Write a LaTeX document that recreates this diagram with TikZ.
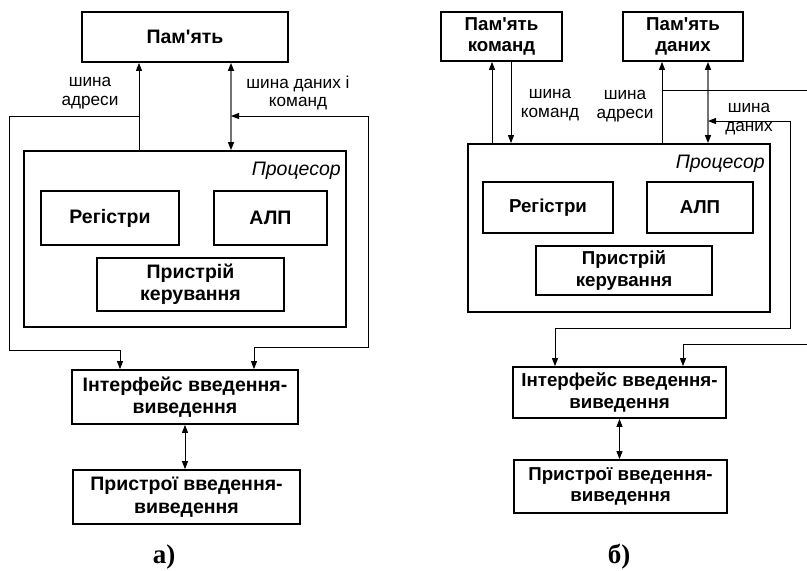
\documentclass[tikz,border=0pt]{standalone}
\usepackage{fontspec}
\newfontfamily\arialf{Liberation Sans}
\newfontfamily\timesf{Liberation Serif}
\usetikzlibrary{arrows.meta}
\begin{document}
\begin{tikzpicture}[x=1pt,y=-1pt,
  box/.style={draw, line width=1.8pt, inner sep=0pt, align=center,
    font=\arialf\fontsize{19.5}{22.5}\selectfont\bfseries},
  boxb/.style={box, font=\arialf\fontsize{18.7}{21.5}\selectfont\bfseries},
  lbl/.style={align=center, inner sep=0pt, font=\arialf\fontsize{17.2}{18.5}\selectfont},
  ttl/.style={inner sep=0pt, anchor=east, font=\arialf\fontsize{19.5}{21}\selectfont\itshape},
  captext/.style={inner sep=0pt, font=\timesf\fontsize{27}{28}\selectfont\bfseries},
  conn/.style={line width=0.9pt, draw=black},
  bus/.style={line width=1.4pt, draw=black!55},
  tip/.style={-{Triangle[length=8pt,width=6pt,color=black]}},
  dtip/.style={{Triangle[length=8pt,width=6pt,color=black]}-{Triangle[length=8pt,width=6pt,color=black]}}
]
\useasboundingbox (0,0) rectangle (807,571);

% ---------------- a) ----------------
\node[box, minimum width=206pt, minimum height=50pt] (memA) at (185,37) {Пам'ять};
\node[box, minimum width=322pt, minimum height=176pt] (pA) at (185,239) {};
\node[ttl] (tA) at (341,171) {Процесор};
\node[box, minimum width=138pt, minimum height=54pt] (regA) at (110,218) {Регістри};
\node[box, minimum width=113pt, minimum height=54pt] (aluA) at (270.5,218) {АЛП};
\node[box, minimum width=187pt, minimum height=53pt] (cuA) at (190.5,284.5) {Пристрій\\керування};
\node[box, minimum width=226pt, minimum height=54pt] (ifA) at (185,397) {Інтерфейс введення-\\виведення};
\node[box, minimum width=227pt, minimum height=54pt] (devA) at (186.5,497) {Пристрої введення-\\виведення};

\node[lbl] (lA1) at (90,93) {шина\\адреси};
\node[lbl] (lA2) at (298,93) {шина даних і\\команд};

\coordinate (aAddr) at (139,0);
\coordinate (aData) at (231,0);
\draw[conn,tip] (pA.north -| aAddr) -- (memA.south -| aAddr);
\draw[bus,dtip] (pA.north -| aData) -- (memA.south -| aData);

\coordinate (aL1) at (139,116);
\coordinate (aL2) at (9,116);
\coordinate (aL3) at (9,350);
\coordinate (aL4) at (120,350);
\draw[conn,tip] (aL1) -- (aL2) -- (aL3) -- (aL4) -- (ifA.north -| aL4);

\coordinate (aR0) at (231,116);
\coordinate (aR1) at (368,116);
\coordinate (aR2) at (368,347);
\coordinate (aR3) at (254,347);
\draw[conn,dtip] (aR0) -- (aR1) -- (aR2) -- (aR3) -- (ifA.north -| aR3);

\draw[conn,dtip] (ifA.south) -- (ifA.south |- devA.north);

\node[captext] (cA) at (164,557) {а)};

% ---------------- b) ----------------
\node[boxb, minimum width=121pt, minimum height=49pt] (memK) at (501.5,36.5) {Пам'ять\\команд};
\node[boxb, minimum width=120pt, minimum height=49pt] (memD) at (683,36.5) {Пам'ять\\даних};
\node[boxb, minimum width=302pt, minimum height=168pt] (pB) at (619,228) {};
\node[ttl] (tB) at (765,164) {Процесор};
\node[boxb, minimum width=130pt, minimum height=51pt] (regB) at (548,207.5) {Регістри};
\node[boxb, minimum width=106pt, minimum height=51pt] (aluB) at (700,207.5) {АЛП};
\node[boxb, minimum width=176pt, minimum height=49pt] (cuB) at (624,270.5) {Пристрій\\керування};
\node[boxb, minimum width=213pt, minimum height=51pt] (ifB) at (619.5,392.5) {Інтерфейс введення-\\виведення};
\node[boxb, minimum width=213pt, minimum height=53pt] (devB) at (620.5,486.5) {Пристрої введення-\\виведення};

\node[lbl] (lB1) at (550,105) {шина\\команд};
\node[lbl] (lB2) at (625,106) {шина\\адреси};
\node[lbl] (lB3) at (749,119) {шина\\даних};

\coordinate (bK1) at (492,0);
\coordinate (bK2) at (511,0);
\coordinate (bAd) at (662,0);
\coordinate (bDa) at (708,0);
\draw[conn,tip] (pB.north -| bK1) -- (memK.south -| bK1);
\draw[conn,tip] (memK.south -| bK2) -- (pB.north -| bK2);
\draw[conn,tip] (pB.north -| bAd) -- (memD.south -| bAd);
\draw[bus,dtip] (memD.south -| bDa) -- (pB.north -| bDa);

\coordinate (bA1) at (662,90);
\coordinate (bA2) at (807,90);
\draw[conn] (bA1) -- (bA2);
\coordinate (bA3) at (807,344);
\coordinate (bA4) at (683,344);
\draw[conn,tip] (bA3) -- (bA4) -- (ifB.north -| bA4);

\coordinate (bD0) at (708,121);
\coordinate (bD1) at (790,121);
\coordinate (bD2) at (790,328);
\coordinate (bD3) at (555,328);
\draw[conn,dtip] (bD0) -- (bD1) -- (bD2) -- (bD3) -- (ifB.north -| bD3);

\draw[conn,dtip] (ifB.south) -- (ifB.south |- devB.north);

\node[captext] (cB) at (619,557) {б)};
\end{tikzpicture}
\end{document}
